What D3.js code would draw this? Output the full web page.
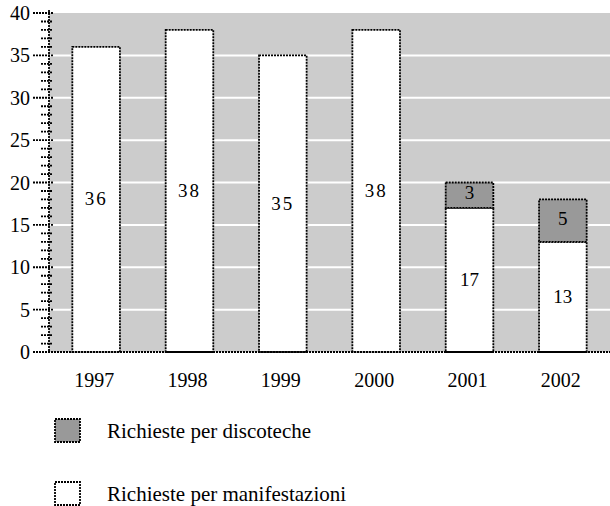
<!DOCTYPE html>
<html><head><meta charset="utf-8">
<script src="https://cdn.jsdelivr.net/npm/d3@7"></script>
<style>body{margin:0;background:#fff}svg{display:block}</style>
</head><body>
<svg id="c" width="610" height="506"></svg>
<script>
const years = ["1997","1998","1999","2000","2001","2002"];
const manifestazioni = [36,38,35,38,17,13];
const discoteche = [0,0,0,0,3,5];
const yTicks = [0,5,10,15,20,25,30,35,40];
const legendLabels = ["Richieste per discoteche","Richieste per manifestazioni"];

const FONT = "Liberation Serif";
const svg = d3.select("#c");
const L = 49, R = 610, T = 13, B = 352;
const x = d3.scaleBand().domain(years).range([L, R]).paddingInner(0.49).paddingOuter(0.25);
const y = d3.scaleLinear().domain([0, 40]).range([B, T]);
const dash = "2,1";
const SW = 1.8;

svg.append("rect").attr("x", L).attr("y", T).attr("width", R - L).attr("height", B - T).attr("fill", "#cccccc");
svg.selectAll("line.grid").data(yTicks.filter(d => d > 0 && d < 40)).join("line")
  .attr("x1", L).attr("x2", R).attr("y1", d => y(d)).attr("y2", d => y(d))
  .attr("stroke", "#fff").attr("stroke-width", 2);

const data = years.map((yr, i) => ({yr, m: manifestazioni[i], d: discoteche[i]}));
svg.selectAll("rect.m").data(data).join("rect")
  .attr("x", d => x(d.yr)).attr("width", x.bandwidth())
  .attr("y", d => y(d.m)).attr("height", d => y(0) - y(d.m))
  .attr("fill", "#fff").attr("stroke", "#000").attr("stroke-width", SW).attr("stroke-dasharray", dash);
svg.selectAll("rect.d").data(data.filter(d => d.d > 0)).join("rect")
  .attr("x", d => x(d.yr)).attr("width", x.bandwidth())
  .attr("y", d => y(d.m + d.d)).attr("height", d => y(d.m) - y(d.m + d.d))
  .attr("fill", "#999999").attr("stroke", "#000").attr("stroke-width", SW).attr("stroke-dasharray", dash);

svg.selectAll("text.ml").data(data).join("text")
  .attr("font-family", FONT)
  .attr("x", d => x(d.yr) + x.bandwidth() / 2).attr("y", d => y(d.m / 2) + 6)
  .attr("text-anchor", "middle").attr("font-size", 19).attr("letter-spacing", d => d.m > 30 ? 2 : 0)
  .text(d => d.m);
svg.selectAll("text.dl").data(data.filter(d => d.d > 0)).join("text")
  .attr("font-family", FONT)
  .attr("x", d => x(d.yr) + x.bandwidth() / 2).attr("y", d => y(d.m + d.d / 2) + 4)
  .attr("text-anchor", "middle").attr("font-size", 19)
  .text(d => d.d);

const minor = d3.range(0, 41);
svg.selectAll("line.minor").data(minor.filter(d => d % 5 !== 0)).join("line")
  .attr("x1", 41).attr("x2", 53).attr("y1", d => y(d)).attr("y2", d => y(d))
  .attr("stroke", "#000").attr("stroke-width", SW).attr("stroke-dasharray", dash);
svg.selectAll("line.major").data(yTicks).join("line")
  .attr("x1", 33).attr("x2", 53).attr("y1", d => y(d)).attr("y2", d => y(d))
  .attr("stroke", "#000").attr("stroke-width", SW).attr("stroke-dasharray", dash);
svg.append("line").attr("x1", L).attr("x2", L).attr("y1", T - 3).attr("y2", B)
  .attr("stroke", "#000").attr("stroke-width", SW).attr("stroke-dasharray", dash);
svg.append("line").attr("x1", 33).attr("x2", R).attr("y1", B).attr("y2", B)
  .attr("stroke", "#000").attr("stroke-width", SW).attr("stroke-dasharray", dash);
svg.selectAll("text.yt").data(yTicks).join("text")
  .attr("font-family", FONT)
  .attr("x", 30).attr("y", d => y(d) + 7).attr("text-anchor", "end").attr("font-size", 20)
  .text(d => d);

svg.selectAll("text.xt").data(years).join("text")
  .attr("font-family", FONT)
  .attr("x", d => x(d) + x.bandwidth() / 2 - 2).attr("y", 387).attr("text-anchor", "middle").attr("font-size", 20)
  .text(d => d);

const leg = [{fill: "#999999", label: legendLabels[0], y: 419}, {fill: "#fff", label: legendLabels[1], y: 482}];
const lg = svg.selectAll("g.leg").data(leg).join("g").attr("transform", d => `translate(55,${d.y})`);
lg.append("rect").attr("width", 25).attr("height", 23).attr("fill", d => d.fill)
  .attr("stroke", "#000").attr("stroke-width", SW).attr("stroke-dasharray", dash);
lg.append("text").attr("font-family", FONT).attr("x", 52).attr("y", 19).attr("font-size", 21).text(d => d.label);
</script>
</body></html>
